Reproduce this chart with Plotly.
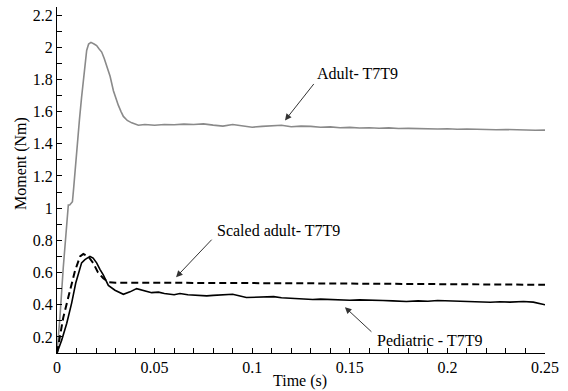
import plotly.graph_objects as go

# ---- data ----
adult_t = [0, 0.0015, 0.0032, 0.005, 0.0058, 0.0065, 0.0072, 0.0079, 0.0085, 0.010, 0.0115,
           0.0126, 0.014, 0.0152, 0.0162, 0.0174, 0.019, 0.0203, 0.0215, 0.0229, 0.0242,
           0.0255, 0.0272, 0.0289, 0.0302, 0.0314, 0.0328, 0.034, 0.036, 0.0383, 0.0417,
           0.045, 0.05, 0.055, 0.06, 0.065, 0.07, 0.075, 0.08, 0.085, 0.09, 0.095, 0.1,
           0.105, 0.11, 0.115, 0.12, 0.125, 0.13, 0.135, 0.14, 0.145, 0.15, 0.155, 0.16,
           0.165, 0.17, 0.175, 0.18, 0.185, 0.19, 0.195, 0.2, 0.205, 0.21, 0.215, 0.22,
           0.225, 0.23, 0.235, 0.24, 0.245, 0.25]
adult_y = [0.1, 0.32, 0.63, 0.94, 1.02, 1.02, 1.03, 1.04, 1.12, 1.36, 1.55,
           1.69, 1.84, 1.98, 2.02, 2.03, 2.02, 2.01, 1.99, 1.97, 1.93,
           1.88, 1.82, 1.73, 1.68, 1.64, 1.60, 1.57, 1.545, 1.53, 1.515,
           1.52, 1.515, 1.52, 1.518, 1.522, 1.52, 1.524, 1.516, 1.51, 1.52, 1.512, 1.503,
           1.508, 1.512, 1.515, 1.506, 1.51, 1.508, 1.503, 1.505, 1.50, 1.502, 1.498, 1.50,
           1.497, 1.499, 1.495, 1.496, 1.494, 1.496, 1.492, 1.493, 1.49, 1.492, 1.489, 1.49,
           1.487, 1.489, 1.486, 1.487, 1.484, 1.485]

scaled_t = [0, 0.0032, 0.0067, 0.0092, 0.0118, 0.0135, 0.016, 0.0185, 0.021, 0.0237,
            0.0263, 0.03, 0.04, 0.05, 0.06, 0.07, 0.08, 0.09, 0.1, 0.11, 0.12, 0.13,
            0.14, 0.15, 0.16, 0.17, 0.18, 0.19, 0.2, 0.21, 0.22, 0.23, 0.24, 0.25]
scaled_y = [0.1, 0.32, 0.49, 0.61, 0.70, 0.715, 0.70, 0.66, 0.60, 0.565,
            0.54, 0.536, 0.537, 0.537, 0.536, 0.537, 0.535, 0.536, 0.535, 0.534, 0.533, 0.533,
            0.532, 0.531, 0.530, 0.530, 0.529, 0.528, 0.527, 0.527, 0.526, 0.525, 0.525, 0.524]

ped_t = [0, 0.0024, 0.005, 0.0075, 0.0096, 0.0126, 0.0143, 0.0169, 0.0185, 0.0203, 0.022,
         0.0237, 0.0263, 0.0297, 0.034, 0.0374, 0.0408, 0.0442, 0.0485, 0.052, 0.055,
         0.06, 0.063, 0.067, 0.07, 0.0767, 0.08, 0.085, 0.09, 0.097, 0.1, 0.105, 0.111,
         0.115, 0.119, 0.125, 0.131, 0.135, 0.14, 0.145, 0.15, 0.155, 0.162, 0.167,
         0.172, 0.179, 0.185, 0.19, 0.195, 0.2, 0.205, 0.21, 0.215, 0.222, 0.227, 0.232,
         0.239, 0.244, 0.25]
ped_y = [0.1, 0.18, 0.285, 0.41, 0.535, 0.66, 0.68, 0.70, 0.69, 0.66, 0.62,
         0.585, 0.52, 0.49, 0.465, 0.48, 0.50, 0.49, 0.475, 0.478, 0.47,
         0.462, 0.47, 0.462, 0.46, 0.455, 0.458, 0.462, 0.465, 0.445, 0.447, 0.45, 0.45,
         0.443, 0.44, 0.437, 0.432, 0.435, 0.432, 0.43, 0.428, 0.43, 0.425, 0.426,
         0.424, 0.42, 0.424, 0.422, 0.426, 0.424, 0.425, 0.42, 0.418, 0.415, 0.418, 0.416,
         0.42, 0.416, 0.40]

x_tick_vals = [0, 0.05, 0.1, 0.15, 0.2, 0.25]
y_tick_vals = [0.2, 0.4, 0.6, 0.8, 1.0, 1.2, 1.4, 1.6, 1.8, 2.0, 2.2]

labels = ["Adult- T7T9", "Scaled adult- T7T9", "Pediatric - T7T9"]
arrow_tips = [(0.1168, 1.545), (0.061, 0.571), (0.1475, 0.385)]
arrow_offsets = [(30, -38), (37, -39), (28, 26)]
label_pos = [(0.1322, 1.837), (0.0809, 0.862), (0.1629, 0.178)]

FONT = "Liberation Serif"
FS = 16

fig = go.Figure()
fig.add_trace(go.Scatter(x=adult_t, y=adult_y, mode="lines",
                         line=dict(color="#8a8a8a", width=1.6), showlegend=False))
fig.add_trace(go.Scatter(x=scaled_t, y=scaled_y, mode="lines",
                         line=dict(color="black", width=2, dash="7px,4px"), showlegend=False))
fig.add_trace(go.Scatter(x=ped_t, y=ped_y, mode="lines",
                         line=dict(color="black", width=1.6), showlegend=False))

annotations = []
for (tx, ty), (ax, ay) in zip(arrow_tips, arrow_offsets):
    annotations.append(dict(x=tx, y=ty, xref="x", yref="y", text="", showarrow=True,
                            ax=ax, ay=ay, arrowhead=2, arrowsize=1.3, arrowwidth=1,
                            arrowcolor="#333333"))
for lab, (lx, ly) in zip(labels, label_pos):
    annotations.append(dict(x=lx, y=ly, xref="x", yref="y", text=lab, showarrow=False,
                            xanchor="left", yanchor="middle",
                            font=dict(family=FONT, size=FS, color="black")))
annotations.append(dict(x=0.498, y=-0.081, xref="paper", yref="paper", text="Time (s)",
                        showarrow=False, xanchor="center", yanchor="middle",
                        font=dict(family=FONT, size=FS, color="black")))
annotations.append(dict(x=-0.0738, y=0.549, xref="paper", yref="paper", text="Moment (Nm)",
                        showarrow=False, xanchor="center", yanchor="middle", textangle=-90,
                        font=dict(family=FONT, size=FS, color="black")))

fig.update_layout(
    width=568, height=391,
    margin=dict(l=57, r=23, t=7, b=38),
    paper_bgcolor="white", plot_bgcolor="white",
    font=dict(family=FONT, size=FS, color="black"),
    annotations=annotations,
    xaxis=dict(range=[0, 0.25], showgrid=False, zeroline=False, showline=True,
               linecolor="black", linewidth=1, ticks="inside", ticklen=5, tickcolor="black",
               tickvals=x_tick_vals, ticktext=[str(v) if v else "0" for v in x_tick_vals],
               minor=dict(dtick=0.01, tick0=0, ticks="inside", ticklen=5, tickcolor="black"),
               tickfont=dict(family=FONT, size=FS)),
    yaxis=dict(range=[0.1, 2.25], showgrid=False, zeroline=False, showline=True,
               linecolor="black", linewidth=1, ticks="inside", ticklen=5, tickcolor="black",
               tickvals=y_tick_vals, ticktext=[("%g" % v) for v in y_tick_vals],
               minor=dict(dtick=0.1, tick0=0, ticks="inside", ticklen=5, tickcolor="black"),
               tickfont=dict(family=FONT, size=FS)),
)

fig.write_html("out.html")
